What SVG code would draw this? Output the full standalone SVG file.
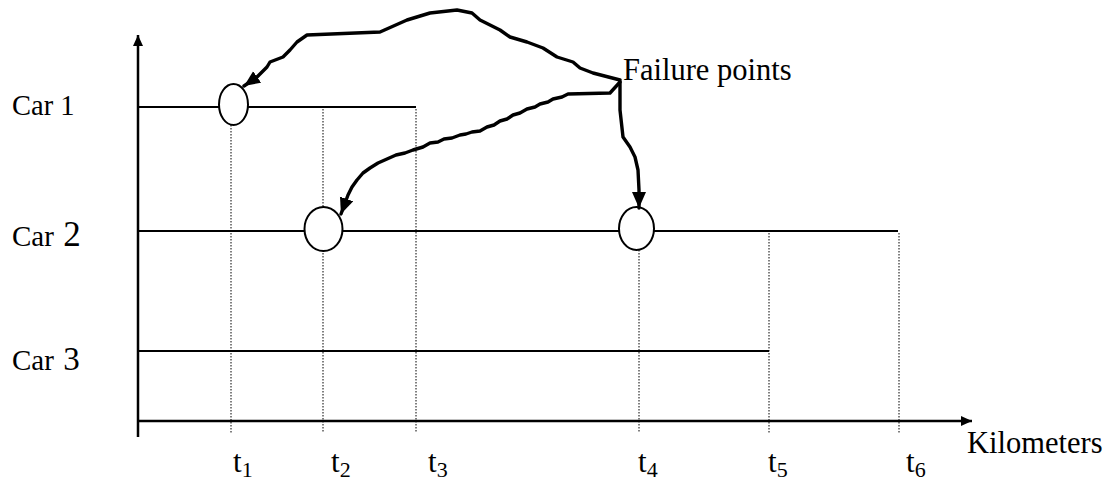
<svg xmlns="http://www.w3.org/2000/svg" width="1106" height="480" viewBox="0 0 1106 480">
<style>
.txt{font-family:"Liberation Serif","Times New Roman",serif;fill:#000}
.axis{stroke:#000;stroke-width:2.5;fill:none}
.car{stroke:#000;stroke-width:2.2;fill:none}
.dot{stroke:#000;stroke-width:1;stroke-dasharray:1.5,1.5;fill:none}
.pt{fill:#fff;stroke:#000;stroke-width:2}
.cur{stroke:#000;stroke-width:3.4;fill:none;stroke-linejoin:round;stroke-linecap:round}
</style>
<defs>
<marker id="ah" markerUnits="userSpaceOnUse" markerWidth="12" markerHeight="12" refX="11" refY="5" orient="auto" viewBox="0 0 12 10">
<path d="M0,0 L11,5 L0,10 z" fill="#000"/>
</marker>
<marker id="big" markerUnits="userSpaceOnUse" markerWidth="17" markerHeight="15" refX="16" refY="7" orient="auto" viewBox="0 0 17 14">
<path d="M0,0 L16,7 L0,14 z" fill="#000"/>
</marker>
</defs>
<g id="axes">
<line class="axis" x1="138" y1="437" x2="138" y2="35" marker-end="url(#ah)"/>
<line class="axis" x1="138" y1="421" x2="972" y2="421" marker-end="url(#ah)"/>
</g>
<g id="ticks">
<line class="dot" x1="231" y1="125" x2="231" y2="433"/>
<line class="dot" x1="323" y1="109" x2="323" y2="433"/>
<line class="dot" x1="416" y1="109" x2="416" y2="433"/>
<line class="dot" x1="639" y1="250" x2="639" y2="433"/>
<line class="dot" x1="769" y1="233" x2="769" y2="433"/>
<line class="dot" x1="899" y1="233" x2="899" y2="433"/>
</g>
<g id="car1">
<line class="car" x1="138" y1="107" x2="416" y2="107"/>
<text class="txt" x="12" y="115" font-size="28.5">Car 1</text>
</g>
<g id="car2">
<line class="car" x1="138" y1="231" x2="898" y2="231"/>
<text class="txt" x="12" y="246" font-size="29">Car <tspan font-size="35" dx="2">2</tspan></text>
</g>
<g id="car3">
<line class="car" x1="138" y1="351" x2="769" y2="351"/>
<text class="txt" x="12" y="370" font-size="29">Car <tspan font-size="33" dx="2">3</tspan></text>
</g>
<g id="failure1"><ellipse class="pt" cx="233.5" cy="104.5" rx="14.5" ry="20.5"/></g>
<g id="failure2"><ellipse class="pt" cx="323.5" cy="229" rx="19" ry="22"/></g>
<g id="failure3"><ellipse class="pt" cx="636.5" cy="228.5" rx="17.5" ry="21.5"/></g>
<g id="connectors">
<path class="cur" marker-end="url(#big)" d="M620,80 L593,73 L580,68 L573,62 L557,57 L543,48 L527,42 L510,37 L500,30 L480,20 L472,13 L457,10 L430,13 L407,20 L380,32 L307,35 L297,42 L290,50 L283,57 L270,62 L267,67 L257,77 L244,86"/>
<path class="cur" marker-end="url(#big)" d="M620,82 L610,93 L568,94 L562,97 L553,99 L548,102 L540,104 L535,107 L527,109 L520,113 L513,115 L507,119 L500,121 L494,125 L487,127 L480,131 L472,132 L466,134 L460,135 L452,138 L444,139 L438,142 L430,143 L423,147 L413,150 L405,153 L396,155 L387,159 L378,163 L370,168 L363,173 L357,180 L352,187 L348,195 L341,214"/>
<path class="cur" marker-end="url(#big)" d="M620,82 L620,110 L623,137 L630,147 L635,157 L638,170 L639,190 L639,208"/>
</g>
<g id="labels">
<text class="txt" x="623" y="80" font-size="30.5">Failure points</text>
<text class="txt" x="967" y="453" font-size="30.5">Kilometers</text>
<text class="txt" x="233" y="472" font-size="31">t<tspan font-size="22" dy="5">1</tspan></text>
<text class="txt" x="331" y="472" font-size="31">t<tspan font-size="22" dy="5">2</tspan></text>
<text class="txt" x="428" y="472" font-size="31">t<tspan font-size="22" dy="5">3</tspan></text>
<text class="txt" x="638" y="472" font-size="31">t<tspan font-size="22" dy="5">4</tspan></text>
<text class="txt" x="768" y="472" font-size="31">t<tspan font-size="22" dy="5">5</tspan></text>
<text class="txt" x="906" y="472" font-size="31">t<tspan font-size="22" dy="5">6</tspan></text>
</g>
</svg>
